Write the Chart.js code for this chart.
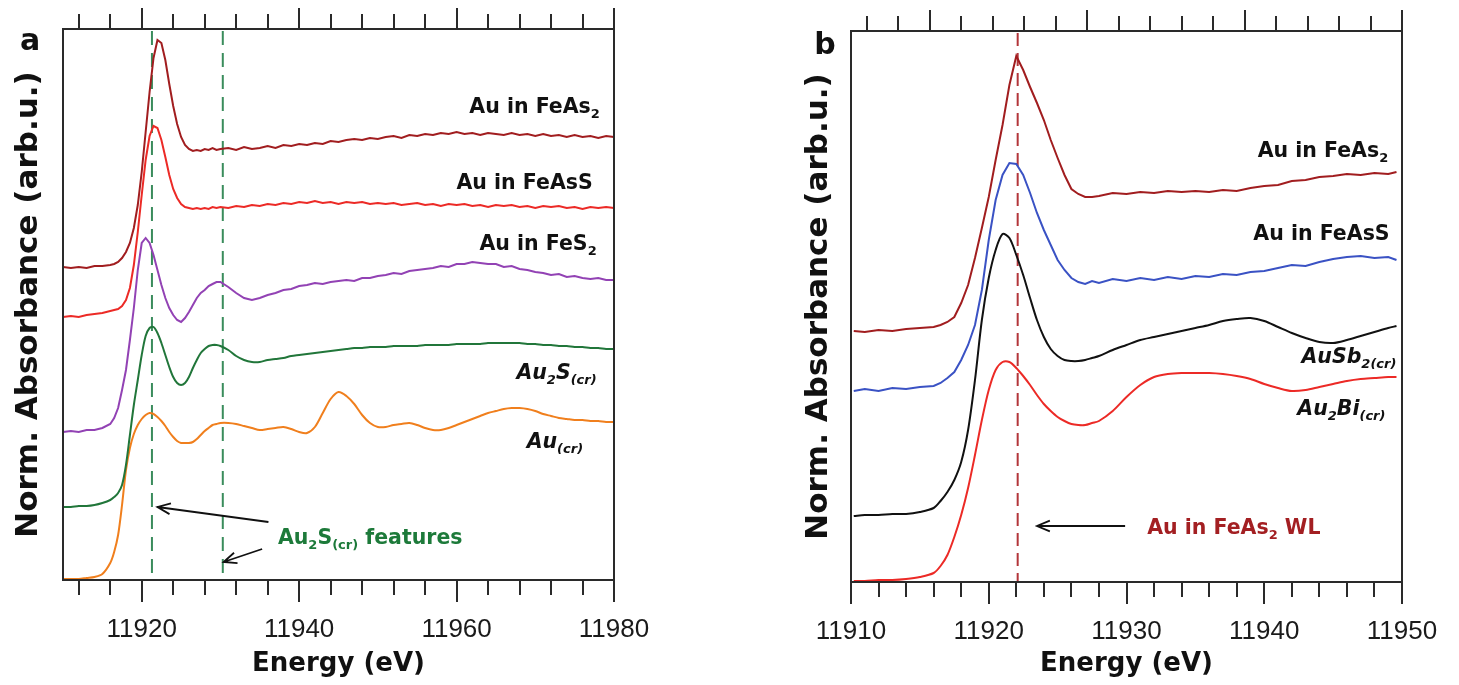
<!DOCTYPE html>
<html>
<head>
<meta charset="utf-8">
<script src="https://cdn.jsdelivr.net/npm/chart.js@4.4.1/dist/chart.umd.min.js"></script>
<style>
  html, body { margin: 0; padding: 0; background: #fff; }
  body { width: 1459px; height: 685px; position: relative; overflow: hidden; }
  .panel { position: absolute; top: 0; height: 685px; }
  #panelA { left: 0; width: 730px; }
  #panelB { left: 790px; width: 669px; }
</style>
</head>
<body>
<div class="panel" id="panelA"><canvas id="chartA"></canvas></div>
<div class="panel" id="panelB"><canvas id="chartB"></canvas></div>
<script>
// panel a - reference spectra (energy in eV, absorbance in arb. units, curves offset)
const energyA = [11910, 11911, 11912, 11913, 11914, 11915, 11916,
  11916.5, 11917, 11917.5, 11918, 11918.5, 11919, 11919.5, 11920, 11920.5, 11921, 11921.5, 11922, 11922.5, 11923,
  11923.5, 11924, 11924.5, 11925, 11925.5, 11926, 11926.5, 11927, 11927.5, 11928, 11928.5, 11929, 11929.5, 11930,
  11931, 11932, 11933, 11934, 11935, 11936, 11937, 11938, 11939, 11940,
  11941, 11942, 11943, 11944, 11945, 11946, 11947, 11948, 11949, 11950,
  11951, 11952, 11953, 11954, 11955, 11956, 11957, 11958, 11959, 11960,
  11961, 11962, 11963, 11964, 11965, 11966, 11967, 11968, 11969, 11970,
  11971, 11972, 11973, 11974, 11975, 11976, 11977, 11978, 11979, 11980]

const auFeAs2A = [313, 312, 313, 312, 314, 314, 315,
  316, 318, 322, 328, 337, 352, 375, 408, 448, 488, 522, 540, 537, 520, 496, 474, 456, 443, 435, 431, 429, 430, 429, 431, 430, 432, 430, 431,
  432, 430, 433, 431, 432, 434, 432, 435, 434, 436,
  435, 437, 436, 439, 438, 440, 441, 440, 442, 441,
  443, 444, 442, 445, 444, 446, 445, 447, 446, 448,
  446, 447, 445, 447, 446, 445, 447, 445, 446, 444,
  446, 444, 445, 443, 445, 443, 444, 442, 444, 443]

const auFeAsSA = [263, 264, 263, 265, 266, 267, 269,
  270, 271, 274, 280, 292, 315, 348, 385, 420, 444, 454, 452, 440, 423, 405, 391, 382, 376, 373, 372, 371, 372, 371, 372, 371, 373, 372, 373,
  372, 374, 373, 375, 374, 376, 375, 377, 376, 378,
  377, 379, 377, 378, 376, 378, 377, 378, 376, 377,
  376, 377, 375, 376, 377, 375, 376, 374, 376, 375,
  376, 374, 375, 373, 375, 374, 375, 373, 374, 372,
  374, 373, 374, 372, 373, 371, 373, 372, 373, 372]

const auFeS2A = [148, 149, 148, 150, 150, 152, 156,
  162, 172, 190, 210, 240, 272, 310, 337, 342, 337, 325, 310, 295, 282, 272, 265, 260, 258, 262, 268, 275, 282, 287, 290, 294, 296, 298, 298,
  293, 287, 282, 280, 282, 285, 287, 290, 291, 294,
  295, 297, 296, 298, 299, 300, 299, 302, 302, 304,
  305, 307, 306, 309, 310, 311, 312, 314, 313, 316,
  316, 318, 317, 316, 316, 313, 314, 311, 310, 308,
  307, 305, 306, 303, 304, 302, 301, 302, 300, 300]

const au2SA = [73, 73, 74, 74, 75, 77, 80,
  83, 87, 95, 115, 145, 175, 200, 225, 244, 252, 253, 247, 237, 225, 213, 203, 197, 195, 197, 203, 212, 220, 227, 231, 234, 235, 235, 234,
  230, 224, 220, 218, 218, 220, 221, 222, 224, 225,
  226, 227, 228, 229, 230, 231, 232, 232, 233, 233,
  233, 234, 234, 234, 234, 235, 235, 235, 235, 236,
  236, 236, 236, 237, 237, 237, 237, 237, 236, 236,
  235, 235, 234, 234, 233, 233, 232, 232, 231, 231]

const auCrA = [1, 1, 1, 2, 3, 6, 17,
  28, 45, 75, 110, 132, 146, 155, 161, 165, 167, 166, 163, 159, 154, 148, 143, 139, 137, 137, 137, 138, 141, 145, 149, 152, 155, 156, 157,
  157, 156, 154, 152, 150, 151, 152, 153, 151, 148,
  147, 153, 167, 181, 188, 184, 176, 165, 157, 153,
  153, 155, 156, 157, 155, 152, 150, 150, 152, 155,
  158, 161, 164, 167, 169, 171, 172, 172, 171, 169,
  166, 164, 162, 161, 160, 160, 159, 159, 158, 158]

const majorTicksA = [11920, 11940, 11960, 11980]
const minorTicksA = [11912, 11916, 11924, 11928, 11932, 11936, 11944, 11948, 11952, 11956, 11964, 11968, 11972, 11976]
const featureLinesA = [11921.3, 11930.3]

// panel b - Au in arsenopyrite vs antimonide / bismuthide
const energyB = [11910.2, 11911, 11912, 11913, 11914, 11915, 11916,
  11916.5, 11917, 11917.5, 11918, 11918.5, 11919, 11919.5, 11920, 11920.5, 11921, 11921.5, 11922,
  11922.5, 11923, 11923.5, 11924, 11924.5, 11925, 11925.5, 11926, 11926.5, 11927, 11927.5, 11928,
  11929, 11930, 11931, 11932, 11933, 11934, 11935, 11936, 11937, 11938,
  11939, 11940, 11941, 11942, 11943, 11944, 11945, 11946, 11947, 11948, 11949, 11949.6]

const auFeAs2B = [251, 250, 252, 251, 253, 254, 255,
  257, 260, 265, 279, 297, 324, 354, 385, 422, 457, 497, 526, 512, 495, 479, 462, 442, 424, 407, 393, 388, 385, 385, 386,
  389, 388, 390, 389, 391, 390, 391, 390, 392, 391,
  394, 396, 397, 401, 402, 405, 406, 408, 407, 409, 408, 410]

const auFeAsSB = [191, 193, 191, 194, 193, 195, 196,
  199, 204, 210, 222, 237, 257, 292, 342, 382, 407, 419, 418, 407, 389, 369, 352, 337, 322, 312, 304, 300, 298, 301, 299,
  303, 301, 304, 302, 305, 303, 306, 305, 308, 307,
  310, 311, 314, 317, 316, 320, 323, 325, 326, 324, 325, 322]

const auSb2B = [66, 67, 67, 68, 68, 70, 74,
  81, 90, 102, 120, 152, 202, 262, 304, 332, 348, 344, 327, 307, 284, 262, 245, 233, 226, 222, 221, 221, 222, 224, 226,
  232, 237, 242, 245, 248, 251, 254, 257, 261, 263,
  264, 261, 255, 249, 244, 240, 239, 242, 246, 250, 254, 256]

const au2BiB = [1, 1, 2, 2, 3, 5, 9,
  16, 27, 45, 67, 94, 127, 162, 192, 212, 220, 220, 214, 206, 197, 187, 178, 171, 165, 161, 158, 157, 157, 159, 161,
  171, 185, 197, 205, 208, 209, 209, 209, 208, 206,
  203, 198, 194, 191, 192, 195, 198, 201, 203, 204, 205, 205]

const majorTicksB = [11910, 11920, 11930, 11940, 11950]
const minorTicksB = [11912, 11914, 11916, 11918, 11922, 11924, 11926, 11928, 11932, 11934, 11936, 11938, 11942, 11944, 11946, 11948]
const whiteLineB = [11922.1]

const frameColor = '#2a2a2a'
const boldFamily = '"DejaVu Sans", sans-serif'

// text with subscripts, parts = [[text, isSub], ...]
const drawRich = (ctx, x, y, parts, l) => {
  const size = 20.5, subSize = 13
  const style = l.italic ? 'italic ' : ''
  const mainFont = `${style}bold ${size}px ${boldFamily}`
  const subFont = `${style}bold ${subSize}px ${boldFamily}`
  let width = 0
  parts.forEach(([t, sub]) => { ctx.font = sub ? subFont : mainFont; width += ctx.measureText(t).width })
  let cx = l.align === 'right' ? x - width : x
  const base = y + size * 0.36
  ctx.fillStyle = l.color || '#111'
  ctx.textAlign = 'left'
  ctx.textBaseline = 'alphabetic'
  parts.forEach(([t, sub]) => {
    ctx.font = sub ? subFont : mainFont
    ctx.fillText(t, cx, sub ? base + 5 : base)
    cx += ctx.measureText(t).width
  })
}

const drawArrow = (ctx, x1, y1, x2, y2) => {
  const ang = Math.atan2(y2 - y1, x2 - x1)
  const head = 14, spread = 0.4
  ctx.strokeStyle = '#111'
  ctx.lineWidth = 1.8
  ctx.setLineDash([])
  ctx.beginPath()
  ctx.moveTo(x1, y1)
  ctx.lineTo(x2, y2)
  ctx.moveTo(x2 - head * Math.cos(ang - spread), y2 - head * Math.sin(ang - spread))
  ctx.lineTo(x2, y2)
  ctx.lineTo(x2 - head * Math.cos(ang + spread), y2 - head * Math.sin(ang + spread))
  ctx.stroke()
}

const panelDecor = {
  id: 'panelDecor',
  beforeDatasetsDraw(chart, args, opts) {
    const {ctx, chartArea: {top, bottom}, scales: {x}} = chart
    ctx.save()
    ctx.setLineDash(opts.dash)
    ctx.strokeStyle = opts.dashColor
    ctx.lineWidth = 2
    opts.dashLines.forEach(e => {
      const px = x.getPixelForValue(e)
      ctx.beginPath()
      ctx.moveTo(px, top + 2)
      ctx.lineTo(px, bottom)
      ctx.stroke()
    })
    ctx.restore()
  },
  afterDraw(chart, args, opts) {
    const {ctx, chartArea: {left, right, top, bottom}, scales: {x, x2, y}} = chart
    ctx.save()
    ctx.strokeStyle = frameColor
    ctx.lineWidth = 2
    ctx.strokeRect(left, top, right - left, bottom - top)
    const tick = (scale, values, edge, len) => values.forEach(v => {
      const px = Math.round(scale.getPixelForValue(v))
      ctx.beginPath()
      ctx.moveTo(px, edge)
      ctx.lineTo(px, edge + len)
      ctx.stroke()
    })
    tick(x, opts.bottomMajor, bottom, 22)
    tick(x, opts.bottomMinor, bottom, 15)
    tick(x2, majorTicksA, top, -21)
    tick(x2, minorTicksA, top, -15)

    opts.labels.forEach(l => drawRich(ctx, x.getPixelForValue(l.e), y.getPixelForValue(l.v), l.parts, l))
    opts.arrows.forEach(a => drawArrow(ctx,
      x.getPixelForValue(a.from[0]), y.getPixelForValue(a.from[1]),
      x.getPixelForValue(a.to[0]), y.getPixelForValue(a.to[1])))

    ctx.font = `bold 30px ${boldFamily}`
    ctx.fillStyle = '#111'
    ctx.textAlign = 'center'
    ctx.textBaseline = 'middle'
    ctx.fillText(opts.letter, opts.letterAt[0], opts.letterAt[1])
    ctx.restore()
  }
}

const makeChart = (id, cfg) => new Chart(document.getElementById(id), {
  type: 'line',
  data: {
    datasets: cfg.series.map(s => ({
      label: s.name,
      data: cfg.energy.map((e, i) => ({x: e, y: s.values[i]})),
      borderColor: s.color,
      borderWidth: 2,
      pointRadius: 0,
      tension: s.smooth ? 0.3 : 0,
      fill: false
    }))
  },
  options: {
    responsive: true,
    maintainAspectRatio: false,
    animation: false,
    devicePixelRatio: 1,
    layout: {padding: {left: 0, top: 0, right: cfg.padRight, bottom: 0}},
    plugins: {legend: {display: false}, tooltip: {enabled: false}, panelDecor: cfg.decor},
    scales: {
      x: {
        type: 'linear', position: 'bottom', min: cfg.xMin, max: cfg.xMax,
        // invisible tick marks only push the labels down
        grid: {display: false, drawTicks: true, tickLength: 34}, border: {display: false},
        afterBuildTicks: s => { s.ticks = cfg.labelTicks.map(v => ({value: v})) },
        afterFit: s => { s.height = 685 - cfg.bottom },
        ticks: {
          padding: 3, color: '#1a1a1a', maxRotation: 0, autoSkip: false,
          font: {family: '"Liberation Sans", Arial, sans-serif', size: 26, lineHeight: 1},
          callback: v => String(v)
        },
        title: {
          display: true, text: 'Energy (eV)', color: '#111',
          font: {family: boldFamily, weight: 'bold', size: 26, lineHeight: 1},
          padding: {top: 0, bottom: 8}
        }
      },
      x2: {
        type: 'linear', position: 'top', min: 11910, max: 11980,
        grid: {display: false, drawTicks: false}, border: {display: false},
        ticks: {display: false},
        afterFit: s => { s.height = cfg.top }
      },
      y: {
        type: 'linear', position: 'left', min: 0, max: 551,
        grid: {display: false, drawTicks: false}, border: {display: false},
        ticks: {display: false},
        afterFit: s => { s.width = cfg.left },
        title: {
          display: true, text: 'Norm. Absorbance (arb.u.)', color: '#111',
          font: {family: boldFamily, weight: 'bold', size: 31, lineHeight: 1},
          padding: {top: 13, bottom: 0}
        }
      }
    }
  },
  plugins: [panelDecor]
})

makeChart('chartA', {
  energy: energyA, xMin: 11910, xMax: 11980, labelTicks: majorTicksA,
  left: 63, top: 29, bottom: 580, padRight: 116,
  series: [
    {name: 'Au in FeAs2', values: auFeAs2A, color: '#a11d1f'},
    {name: 'Au in FeAsS', values: auFeAsSA, color: '#ec2a26'},
    {name: 'Au in FeS2', values: auFeS2A, color: '#9242b4'},
    {name: 'Au2S(cr)', values: au2SA, color: '#21763a', smooth: true},
    {name: 'Au(cr)', values: auCrA, color: '#f07f1d', smooth: true}
  ],
  decor: {
    letter: 'a', letterAt: [30, 42],
    dashLines: featureLinesA, dash: [14, 8], dashColor: '#3a8c5c',
    bottomMajor: majorTicksA, bottomMinor: minorTicksA,
    labels: [
      {parts: [['Au in FeAs'], ['2', true]], e: 11978.2, v: 474, align: 'right'},
      {parts: [['Au in FeAsS']], e: 11977.3, v: 398, align: 'right'},
      {parts: [['Au in FeS'], ['2', true]], e: 11977.8, v: 337, align: 'right'},
      {parts: [['Au'], ['2', true], ['S'], ['(cr)', true]], e: 11967.6, v: 208, italic: true},
      {parts: [['Au'], ['(cr)', true]], e: 11968.9, v: 139, italic: true},
      {parts: [['Au'], ['2', true], ['S'], ['(cr)', true], [' features']], e: 11937.3, v: 43, color: '#1d7a3a'}
    ],
    arrows: [
      {from: [11936.1, 58], to: [11922.0, 73]},
      {from: [11935.3, 31], to: [11930.4, 18]}
    ]
  }
})

makeChart('chartB', {
  energy: energyB, xMin: 11910, xMax: 11950, labelTicks: majorTicksB,
  left: 61, top: 31, bottom: 582, padRight: 57,
  series: [
    {name: 'Au in FeAs2', values: auFeAs2B, color: '#a11d1f'},
    {name: 'Au in FeAsS', values: auFeAsSB, color: '#3a52c4'},
    {name: 'AuSb2(cr)', values: auSb2B, color: '#111111', smooth: true},
    {name: 'Au2Bi(cr)', values: au2BiB, color: '#ec2a26', smooth: true}
  ],
  decor: {
    letter: 'b', letterAt: [35, 46],
    dashLines: whiteLineB, dash: [13, 7], dashColor: '#b3353a',
    bottomMajor: majorTicksB, bottomMinor: minorTicksB,
    labels: [
      {parts: [['Au in FeAs'], ['2', true]], e: 11949.0, v: 432, align: 'right'},
      {parts: [['Au in FeAsS']], e: 11949.1, v: 349, align: 'right'},
      {parts: [['AuSb'], ['2(cr)', true]], e: 11942.7, v: 226, italic: true},
      {parts: [['Au'], ['2', true], ['Bi'], ['(cr)', true]], e: 11942.4, v: 174, italic: true},
      {parts: [['Au in FeAs'], ['2', true], [' WL']], e: 11931.5, v: 55, color: '#a31f22'}
    ],
    arrows: [
      {from: [11929.9, 56], to: [11923.5, 56]}
    ]
  }
})
</script>
</body>
</html>
